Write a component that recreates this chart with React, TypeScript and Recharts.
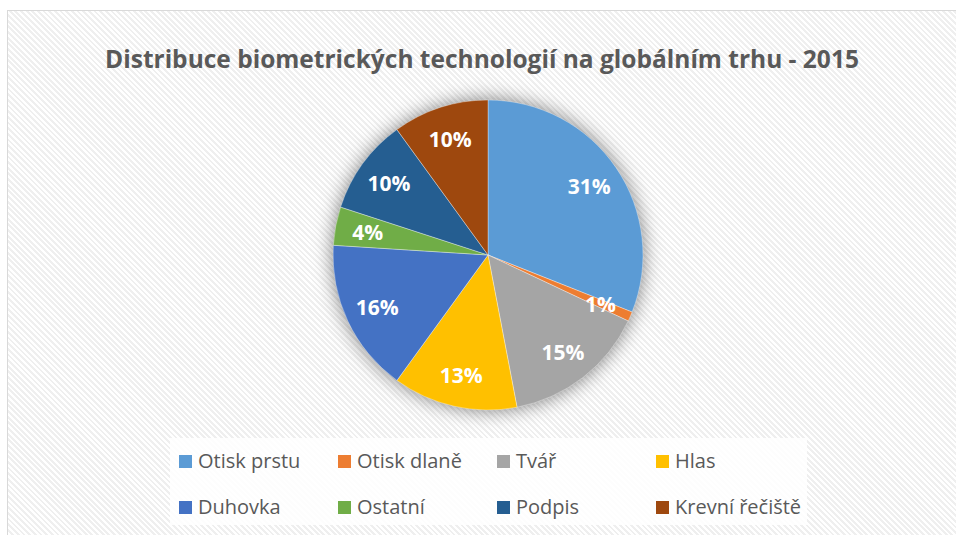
import { Cell, Legend, Pie, PieChart } from "recharts";

const categories = [
  "Otisk prstu",
  "Otisk dlaně",
  "Tvář",
  "Hlas",
  "Duhovka",
  "Ostatní",
  "Podpis",
  "Krevní řečiště",
];
const shares = [31, 1, 15, 13, 16, 4, 10, 10];
const colors = [
  "#5B9BD5",
  "#ED7D31",
  "#A5A5A5",
  "#FFC000",
  "#4472C4",
  "#70AD47",
  "#255E91",
  "#9E480E",
];

const rows = categories.map((name, i) => ({ name, value: shares[i] }));
// jediný plný kruh pod koláčem – jen kvůli stínu
const shadowRows = [{ name: "shadow", value: shares.reduce((a, b) => a + b, 0) }];

const FONT = "'Open Sans', 'Noto Sans', sans-serif";
const TEXT_GRAY = "#595959";
const RAD = Math.PI / 180;

function renderPercent(props: any) {
  const { cx, cy, midAngle, outerRadius, percent } = props;
  const r = outerRadius * 0.79;
  const x = cx + r * Math.cos(-midAngle * RAD);
  const y = cy + r * Math.sin(-midAngle * RAD);
  return (
    <text
      x={x}
      y={y}
      fill="#fff"
      textAnchor="middle"
      dominantBaseline="central"
      fontSize={21}
      fontWeight={700}
      fontFamily={FONT}
    >
      {`${Math.round(percent * 100)}%`}
    </text>
  );
}

function LegendGrid() {
  return (
    <div
      style={{
        display: "grid",
        gridTemplateColumns: "repeat(4, 159px)",
        gridAutoRows: "24px",
        rowGap: 22,
        padding: "11px 0 0 9px",
        boxSizing: "border-box",
        width: "100%",
        height: "100%",
        background: "rgba(255,255,255,0.88)",
        fontFamily: FONT,
        fontSize: 20,
        lineHeight: "24px",
        color: TEXT_GRAY,
      }}
    >
      {categories.map((name, i) => (
        <div key={name} style={{ display: "flex", alignItems: "center", height: 24 }}>
          <span
            style={{
              width: 13,
              height: 13,
              background: colors[i],
              marginRight: 6,
              flexShrink: 0,
            }}
          />
          <span style={{ whiteSpace: "nowrap" }}>{name}</span>
        </div>
      ))}
    </div>
  );
}

export default function App() {
  return (
    <div
      style={{
        position: "absolute",
        left: 0,
        top: 0,
        width: 956,
        height: 535,
        overflow: "hidden",
        background: "#fff",
      }}
    >
      <div
        style={{
          position: "absolute",
          left: 7,
          top: 10,
          width: 970,
          height: 540,
          border: "1px solid #d9d9d9",
          background:
            "repeating-linear-gradient(45deg, #ffffff 0px, #ffffff 2px, #efefef 2px, #efefef 4px)",
        }}
      />
      <div
        style={{
          position: "absolute",
          left: 0,
          top: 42,
          width: 964,
          textAlign: "center",
          fontFamily: FONT,
          fontWeight: 700,
          fontSize: 24.5,
          lineHeight: "34px",
          color: TEXT_GRAY,
        }}
      >
        Distribuce biometrických technologií na globálním trhu - 2015
      </div>
      <div style={{ position: "absolute", left: 0, top: 0 }}>
        <PieChart width={956} height={535} margin={{ top: 0, right: 0, bottom: 0, left: 0 }}>
          <Pie
            data={shadowRows}
            dataKey="value"
            cx={488}
            cy={255}
            outerRadius={154}
            startAngle={90}
            endAngle={-270}
            stroke="none"
            legendType="none"
            isAnimationActive={false}
          >
            <Cell fill="#ffffff" style={{ filter: "drop-shadow(0px 0px 10px rgba(0,0,0,0.55))" }} />
          </Pie>
          <Pie
            data={rows}
            dataKey="value"
            nameKey="name"
            cx={488}
            cy={255}
            outerRadius={155}
            startAngle={90}
            endAngle={-270}
            label={renderPercent}
            labelLine={false}
            isAnimationActive={false}
          >
            {rows.map((r, i) => (
              <Cell key={r.name} fill={colors[i]} stroke="rgba(255,255,255,0.45)" strokeWidth={0.75} />
            ))}
          </Pie>
          <Legend
            content={<LegendGrid />}
            wrapperStyle={{ left: 170, top: 438, width: 637, height: 87, bottom: "auto" }}
          />
        </PieChart>
      </div>
    </div>
  );
}
